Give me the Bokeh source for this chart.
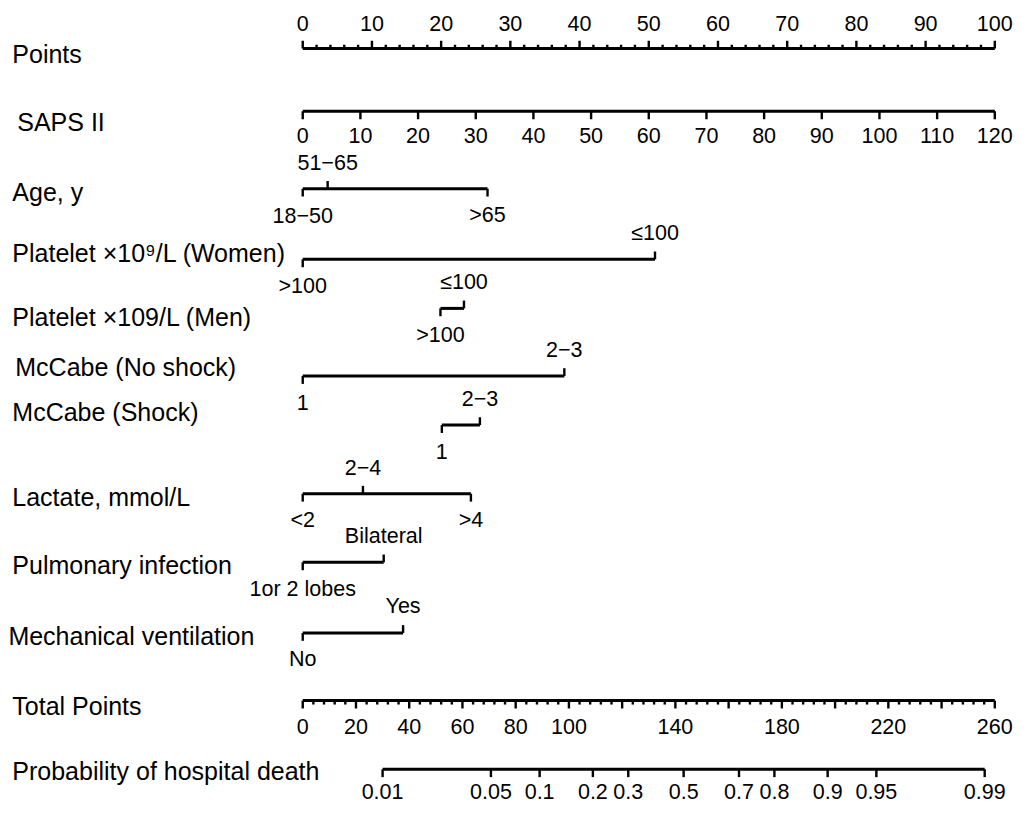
from bokeh.plotting import figure
from bokeh.models import Range1d, ColumnDataSource
from bokeh.embed import file_html
from bokeh.resources import INLINE
from bokeh.core.properties import value

# ---------------- data ----------------
points_major = list(range(0, 101, 10))
points_minor = list(range(0, 101, 2))

saps_ticks = list(range(0, 121, 10))
saps_max = 120          # SAPS II value that scores 100 points

age_levels = ["18\u221250", "51\u221265", ">65"]
age_points = [0.0, 3.6, 26.7]

plt_women_levels = [">100", "\u2264100"]
plt_women_points = [0.0, 50.9]

plt_men_levels = [">100", "\u2264100"]
plt_men_points = [19.9, 23.3]

mccabe_ns_levels = ["1", "2\u22123"]
mccabe_ns_points = [0.0, 37.8]

mccabe_s_levels = ["1", "2\u22123"]
mccabe_s_points = [20.1, 25.6]

lactate_levels = ["<2", "2\u22124", ">4"]
lactate_points = [0.0, 8.7, 24.3]

pulm_levels = ["1or 2 lobes", "Bilateral"]
pulm_points = [0.0, 11.7]

mv_levels = ["No", "Yes"]
mv_points = [0.0, 14.5]

total_max = 260
total_major = list(range(0, 261, 20))
total_minor = list(range(0, 261, 4))
total_labels = [0, 20, 40, 60, 80, 100, 140, 180, 220, 260]

prob_labels = ["0.01", "0.05", "0.1", "0.2", "0.3", "0.5", "0.7", "0.8", "0.9", "0.95", "0.99"]
prob_total_points = [30.0, 70.7, 89.0, 109.0, 122.3, 143.1, 163.9, 177.2, 197.2, 215.5, 256.2]

# ---------------- layout (reference pixel frame 1030 x 823) ----------------
PX0 = 307.0      # x of 0 points
PXS = 7.03       # px per point
def dx(px):
    return (px - PX0) / PXS

FONT = value("Liberation Sans")
LAB = "25px"
TCK = "21.5px"
LW = 3.0
TW = 2.4

p = figure(width=1014, height=807, x_range=Range1d(dx(0), dx(1030)),
           y_range=Range1d(823, 0), toolbar_location=None, output_backend="svg",
           x_axis_type=None, y_axis_type=None, min_border=0)
p.outline_line_color = None
p.grid.visible = False
p.background_fill_color = "white"
p.border_fill_color = "white"

seg = dict(x0=[], y0=[], x1=[], y1=[], w=[])
txt = dict(x=[], y=[], t=[])

def hline(a, b, y):
    seg["x0"].append(a); seg["x1"].append(b); seg["y0"].append(y); seg["y1"].append(y); seg["w"].append(LW)

def tick(x, y, length):
    seg["x0"].append(x); seg["x1"].append(x); seg["y0"].append(y); seg["y1"].append(y + length); seg["w"].append(TW)

def tlabel(x, y, t):
    txt["x"].append(x); txt["y"].append(y); txt["t"].append(t)

# variable labels (left)
rows = [
    ("Points", 12, 55),
    ("SAPS II", 17, 124),
    ("Age, y", 12, 195),
    ("Platelet \u00d710\u2079/L (Women)", 12, 258),
    ("Platelet \u00d7109/L (Men)", 12, 323),
    ("McCabe (No shock)", 15, 374),
    ("McCabe (Shock)", 12, 420),
    ("Lactate, mmol/L", 12, 506),
    ("Pulmonary infection", 12, 576),
    ("Mechanical ventilation", 8, 648),
    ("Total Points", 12, 719),
    ("Probability of hospital death", 12, 786),
]
p.text(x=[dx(r[1]) for r in rows], y=[r[2] for r in rows], text=[r[0] for r in rows],
       text_font=FONT, text_font_size=LAB, text_align="left", text_baseline="middle",
       text_color="black")

# Points axis
y = 49
hline(0, 100, y)
for v in points_minor:
    tick(v, y, -8 if v in points_major else -4)
for v in points_major:
    tlabel(v, 23, str(v))

# SAPS II axis
y = 113
hline(0, 100, y)
for v in saps_ticks:
    tick(v * 100 / saps_max, y, 8)
    tlabel(v * 100 / saps_max, 138, str(v))

# categorical axes
cats = [
    (age_levels, age_points, 192),
    (plt_women_levels, plt_women_points, 264),
    (plt_men_levels, plt_men_points, 314),
    (mccabe_ns_levels, mccabe_ns_points, 383),
    (mccabe_s_levels, mccabe_s_points, 433),
    (lactate_levels, lactate_points, 503),
    (pulm_levels, pulm_points, 573),
    (mv_levels, mv_points, 645),
]
for levels, pts, y in cats:
    hline(min(pts), max(pts), y)
    order = sorted(range(len(pts)), key=lambda i: pts[i])
    for k, i in enumerate(order):
        if k % 2 == 0:
            tick(pts[i], y, 8)
            tlabel(pts[i], y + 27, levels[i])
        else:
            tick(pts[i], y, -8)
            tlabel(pts[i], y - 27, levels[i])

# Total points axis
y = 714
hline(0, 100, y)
for v in total_minor:
    tick(v * 100 / total_max, y, 8 if v in total_major else 4)
for v in total_labels:
    tlabel(v * 100 / total_max, 740, str(v))

# Probability axis
y = 784
hline(min(prob_total_points) * 100 / total_max, max(prob_total_points) * 100 / total_max, y)
for lab, tp in zip(prob_labels, prob_total_points):
    tick(tp * 100 / total_max, y, 8)
    tlabel(tp * 100 / total_max, 807, lab)

p.segment(x0="x0", y0="y0", x1="x1", y1="y1", line_width="w", line_color="black",
          line_cap="butt", source=ColumnDataSource(seg))
p.text(x="x", y="y", text="t", source=ColumnDataSource(txt), text_font=FONT,
       text_font_size=TCK, text_align="center", text_baseline="middle", text_color="black")

open("out.html", "w").write(file_html(p, INLINE))
